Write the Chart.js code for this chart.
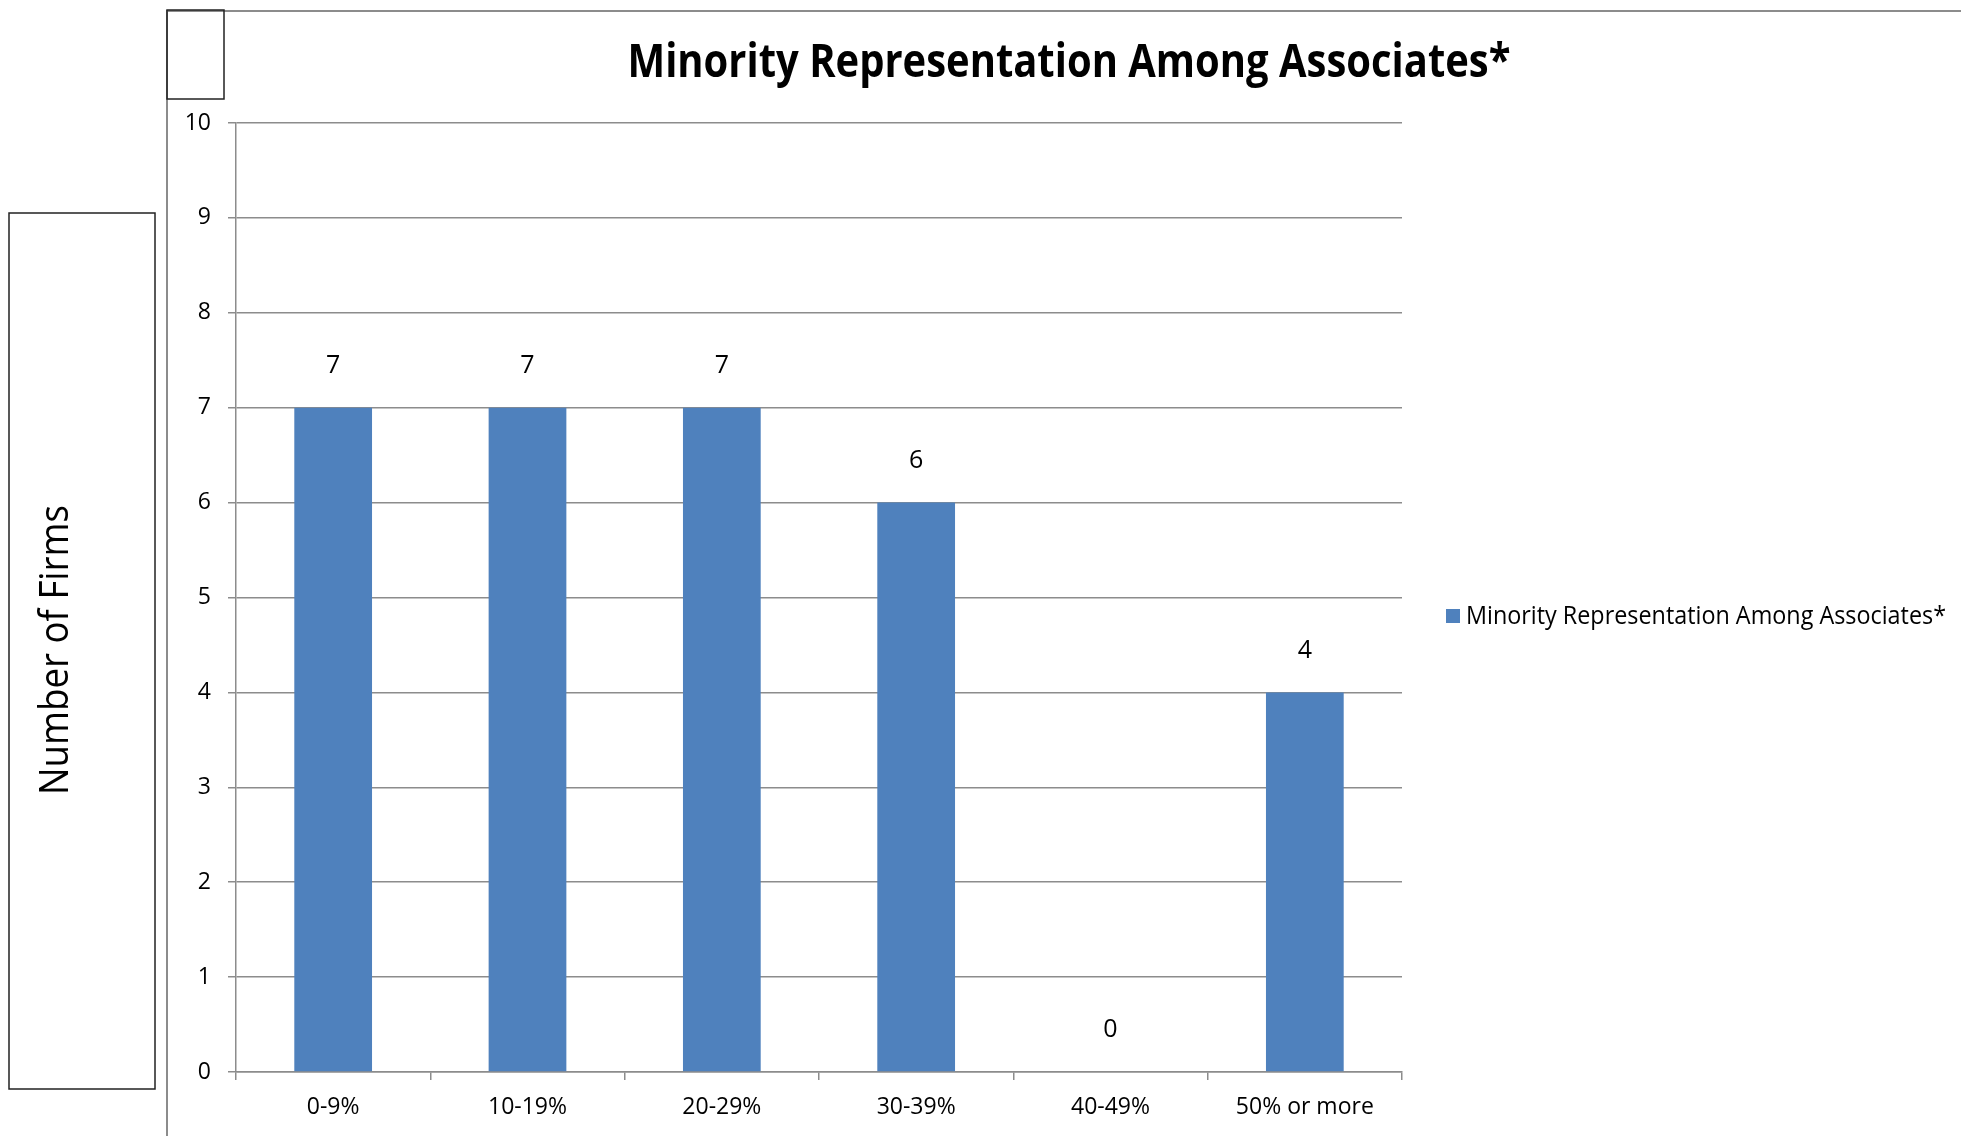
<!DOCTYPE html>
<html><head><meta charset="utf-8">
<script src="https://cdn.jsdelivr.net/npm/chart.js@4"></script>
<style>html,body{margin:0;padding:0;background:#fff}#wrap{width:1961px;height:1136px}</style>
</head><body><div id="wrap"><canvas id="c" width="1961" height="1136"></canvas></div>
<script>
const categories = ['0-9%', '10-19%', '20-29%', '30-39%', '40-49%', '50% or more'];
const firmCounts = [7, 7, 7, 6, 0, 4];
const yMin = 0, yMax = 10, yStep = 1;
const seriesName = 'Minority Representation Among Associates*';
const chartTitle = 'Minority Representation Among Associates*';
const yAxisTitle = 'Number of Firms';

const BAR = '#4F81BD';
const GRID = '#8c8c8c';
const FONT = '"Open Sans", "Noto Sans", sans-serif';

function fitText(ctx, text, x, y, font, targetW, align) {
  ctx.save();
  ctx.font = font;
  const w = ctx.measureText(text).width;
  const sx = targetW / w;
  ctx.translate(x, y);
  ctx.scale(sx, 1);
  ctx.textAlign = align;
  ctx.textBaseline = 'middle';
  ctx.fillText(text, 0, 0);
  ctx.restore();
}

const decor = {
  id: 'decor',
  beforeDraw(chart) {
    const ctx = chart.ctx;
    ctx.save();
    ctx.fillStyle = '#fff';
    ctx.fillRect(0, 0, chart.width, chart.height);
    ctx.strokeStyle = GRID;
    ctx.lineWidth = 2;
    ctx.beginPath();
    ctx.moveTo(167, 11); ctx.lineTo(1961, 11);
    ctx.moveTo(167, 10); ctx.lineTo(167, 1136);
    ctx.stroke();
    ctx.strokeStyle = '#222';
    ctx.lineWidth = 1.5;
    ctx.strokeRect(167, 10, 57, 89);
    ctx.strokeRect(9, 213, 146, 876);
    ctx.restore();
  },
  afterDraw(chart) {
    const ctx = chart.ctx;
    ctx.save();
    ctx.fillStyle = '#000';
    // title
    fitText(ctx, chartTitle, 1069, 64, 'bold 46px ' + FONT, 883, 'center');
    // y axis title
    ctx.save();
    ctx.translate(57, 650);
    ctx.rotate(-Math.PI / 2);
    fitText(ctx, yAxisTitle, 0, 0, '40px ' + FONT, 290, 'center');
    ctx.restore();
    // legend
    ctx.fillStyle = BAR;
    ctx.fillRect(1446, 609, 14, 14);
    ctx.fillStyle = '#000';
    fitText(ctx, seriesName, 1466, 617, '26px ' + FONT, 480, 'left');
    // data labels
    const meta = chart.getDatasetMeta(0);
    ctx.font = '25px ' + FONT;
    ctx.textAlign = 'center';
    ctx.textBaseline = 'middle';
    meta.data.forEach((bar, i) => {
      ctx.fillText(String(firmCounts[i]), bar.x, bar.y - 42);
    });
    ctx.restore();
  }
};

function noPad(scale) {
  scale.paddingTop = 0; scale.paddingBottom = 0;
  scale.paddingLeft = 0; scale.paddingRight = 0;
}

new Chart(document.getElementById('c'), {
  type: 'bar',
  data: {
    labels: categories,
    datasets: [{
      label: seriesName,
      data: firmCounts,
      backgroundColor: BAR,
      borderWidth: 0,
      barPercentage: 0.4,
      categoryPercentage: 1.0
    }]
  },
  options: {
    responsive: false,
    animation: false,
    devicePixelRatio: 1,
    layout: { padding: { left: 176, right: 559, top: 123, bottom: 0 } },
    plugins: { legend: { display: false }, title: { display: false }, tooltip: { enabled: false } },
    scales: {
      x: {
        offset: true,
        grid: { display: true, drawOnChartArea: false, drawTicks: true, tickLength: 8, color: GRID, lineWidth: 1.5, offset: true },
        border: { display: true, color: GRID, width: 1.5 },
        ticks: { color: '#000', font: { family: FONT, size: 23 }, padding: 14, maxRotation: 0 },
        afterFit(scale) { scale.height = 64; noPad(scale); }
      },
      y: {
        min: yMin, max: yMax,
        grid: { color: GRID, lineWidth: 1.5, tickLength: 8, drawTicks: true },
        border: { display: true, color: GRID, width: 1.5 },
        ticks: { stepSize: yStep, color: '#000', font: { family: FONT, size: 23 }, padding: 17 },
        afterFit(scale) { scale.width = 60; noPad(scale); }
      }
    }
  },
  plugins: [decor]
});
</script>
</body></html>
